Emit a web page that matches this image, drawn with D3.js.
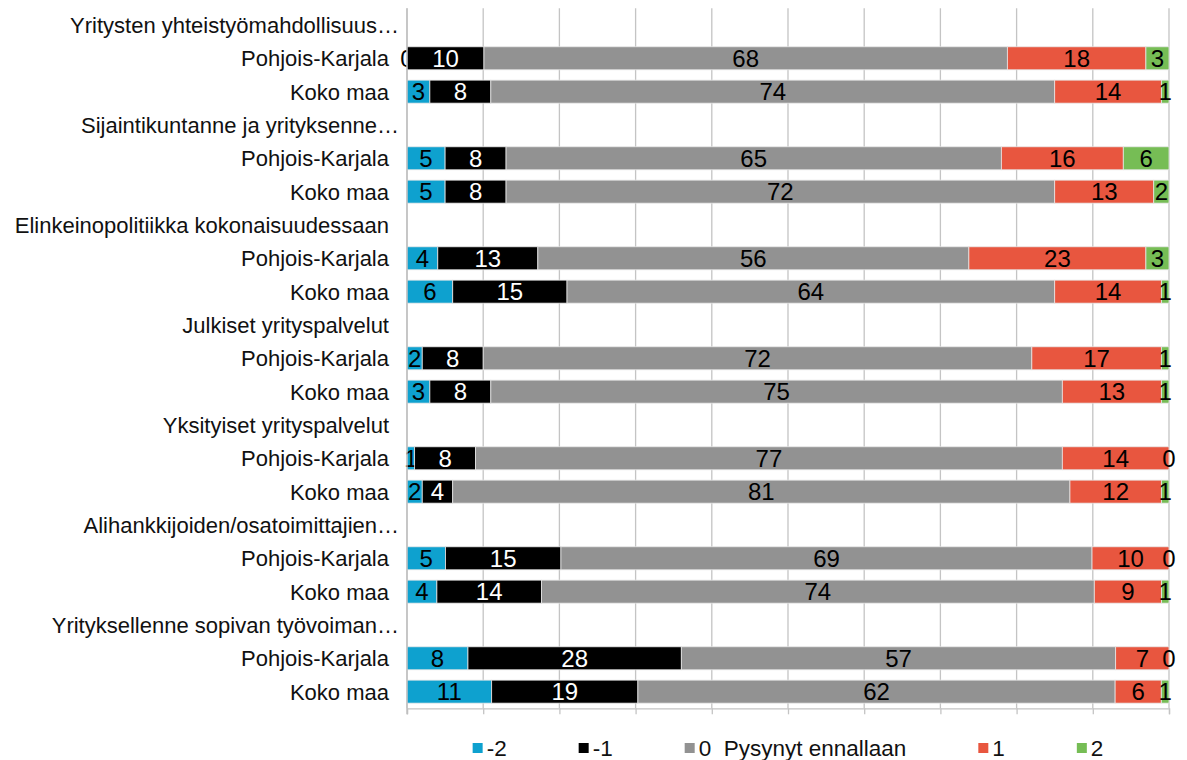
<!DOCTYPE html>
<html>
<head>
<meta charset="utf-8">
<script src="https://cdn.jsdelivr.net/npm/d3@7"></script>
<style>
  body { margin: 0; background: #fff; }
  text { font-family: "Liberation Sans", Arial, sans-serif; }
</style>
</head>
<body>
<script>
// chart data
var groups = [
  "Yritysten yhteistyömahdollisuus…",
  "Sijaintikuntanne ja yrityksenne…",
  "Elinkeinopolitiikka kokonaisuudessaan",
  "Julkiset yrityspalvelut",
  "Yksityiset yrityspalvelut",
  "Alihankkijoiden/osatoimittajien…",
  "Yrityksellenne sopivan työvoiman…"
];
var regions = ["Pohjois-Karjala", "Koko maa"];
var seriesNames = ["-2", "-1", "0  Pysynyt ennallaan", "1", "2"];
var seriesColors = ["#0ea1cf", "#000000", "#929292", "#e8563f", "#76bd55"];

// values per group: [-2, -1, 0, 1, 2]
var pkValues = [
  [0, 10, 68, 18, 3],
  [5, 8, 65, 16, 6],
  [4, 13, 56, 23, 3],
  [2, 8, 72, 17, 1],
  [1, 8, 77, 14, 0],
  [5, 15, 69, 10, 0],
  [8, 28, 57, 7, 0]
];
var kmValues = [
  [3, 8, 74, 14, 1],
  [5, 8, 72, 13, 2],
  [6, 15, 64, 14, 1],
  [3, 8, 75, 13, 1],
  [2, 4, 81, 12, 1],
  [4, 14, 74, 9, 1],
  [11, 19, 62, 6, 1]
];

var width = 1187, height = 760;
var plotLeft = 407, plotRight = 1169, plotTop = 8.3, plotBottom = 708.3;

var svg = d3.select("body").append("svg")
    .attr("width", width)
    .attr("height", height);

// build rows: header row + one row per region
var rows = [];
groups.forEach(function(g, i) {
  rows.push({ id: "h" + i, label: g, header: true });
  rows.push({ id: "p" + i, label: regions[0], values: pkValues[i] });
  rows.push({ id: "k" + i, label: regions[1], values: kmValues[i] });
});

var x = d3.scaleLinear().domain([0, 1]).range([plotLeft, plotRight]);
var y = d3.scaleBand()
    .domain(rows.map(function(d) { return d.id; }))
    .range([plotTop, plotBottom])
    .paddingInner(0.31)
    .paddingOuter(0.155);

// vertical gridlines
svg.append("g")
    .attr("class", "grid")
  .selectAll("line")
  .data(d3.range(0, 1.0001, 0.1))
  .enter().append("line")
    .attr("x1", function(d) { return x(d); })
    .attr("x2", function(d) { return x(d); })
    .attr("y1", plotTop)
    .attr("y2", plotBottom)
    .attr("stroke", "#c4c4c4")
    .attr("stroke-width", 1.3);

// stack the bar rows
var barRows = rows.filter(function(d) { return !d.header; });
var stackData = barRows.map(function(r) {
  var o = { id: r.id };
  r.values.forEach(function(v, j) { o[j] = v; });
  return o;
});
var series = d3.stack()
    .keys(d3.range(seriesNames.length))
    .offset(d3.stackOffsetExpand)(stackData);

var layer = svg.append("g")
    .attr("class", "bars")
  .selectAll("g")
  .data(series)
  .enter().append("g")
    .attr("fill", function(d) { return seriesColors[d.key]; });

layer.selectAll("rect")
  .data(function(d) { return d; })
  .enter().append("rect")
    .attr("x", function(d) { return x(d[0]); })
    .attr("y", function(d) { return y(d.data.id); })
    .attr("width", function(d) { return Math.max(0, x(d[1]) - x(d[0])); })
    .attr("height", y.bandwidth())
    .attr("stroke", "#e6e6e6")
    .attr("stroke-width", 0.8);

// value labels
layer.selectAll("text")
  .data(function(d) {
    return d.map(function(p) { p.key = d.key; return p; });
  })
  .enter().append("text")
    .attr("x", function(d) { return (x(d[0]) + x(d[1])) / 2; })
    .attr("y", function(d) { return y(d.data.id) + y.bandwidth() / 2; })
    .attr("dy", "0.36em")
    .attr("text-anchor", "middle")
    .attr("font-size", 24)
    .attr("fill", function(d) { return d.key === 1 ? "#fff" : "#000"; })
    .text(function(d) { return d.data[d.key]; });

// axis lines
var axis = svg.append("g")
    .attr("transform", "translate(0," + plotBottom + ")")
    .call(d3.axisBottom(x).tickValues(d3.range(0, 1.0001, 0.1)).tickSize(6).tickFormat(""));
axis.select(".domain").attr("stroke", "#c4c4c4").attr("stroke-width", 1.3);
axis.selectAll(".tick line").attr("stroke", "#c4c4c4").attr("stroke-width", 1.3);

svg.append("line")
    .attr("x1", plotLeft).attr("x2", plotLeft)
    .attr("y1", plotTop).attr("y2", plotBottom + 6)
    .attr("stroke", "#bdbdbd")
    .attr("stroke-width", 1.3);

// category labels
svg.append("g")
    .attr("class", "labels")
  .selectAll("text")
  .data(rows)
  .enter().append("text")
    .attr("x", function(d) { return /…$/.test(d.label) ? 399 : 389; })
    .attr("y", function(d) { return y(d.id) + y.bandwidth() / 2; })
    .attr("dy", "0.36em")
    .attr("text-anchor", "end")
    .attr("font-size", 22)
    .attr("fill", "#111")
    .text(function(d) { return d.label; });

// legend, centered under the plot
var legend = svg.append("g").attr("class", "legend");
var items = legend.selectAll("g")
  .data(seriesNames)
  .enter().append("g");
items.append("rect")
    .attr("width", 10)
    .attr("height", 10)
    .attr("y", 743)
    .attr("fill", function(d, i) { return seriesColors[i]; });
items.append("text")
    .attr("x", 14)
    .attr("y", 748)
    .attr("dy", "0.36em")
    .attr("font-size", 22.5)
    .attr("fill", "#111")
    .style("white-space", "pre")
    .attr("xml:space", "preserve")
    .text(function(d) { return d; });

var gap = 72, pos = 0, offsets = [];
items.each(function() {
  var w = 14 + d3.select(this).select("text").node().getComputedTextLength();
  offsets.push(pos);
  pos += w + gap;
});
var total = pos - gap;
var start = (plotLeft + plotRight) / 2 - total / 2;
items.attr("transform", function(d, i) { return "translate(" + (start + offsets[i]) + ",0)"; });
</script>
</body>
</html>
